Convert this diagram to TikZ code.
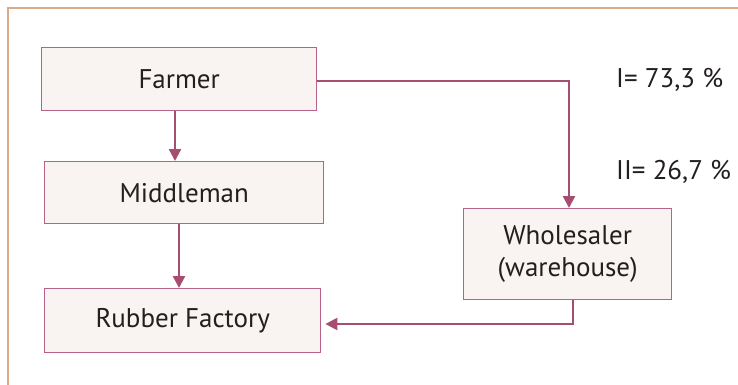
\documentclass[tikz,border=0pt]{standalone}
\usepackage{fontspec}
\setmainfont{PT Sans}
\usetikzlibrary{arrows.meta}
\definecolor{frameC}{HTML}{DDA98B}
\definecolor{boxC}{HTML}{B8628A}
\definecolor{fillC}{HTML}{F9F4F2}
\definecolor{arrC}{HTML}{A84D72}
\definecolor{txtC}{HTML}{231F20}
\begin{document}
\begin{tikzpicture}[x=1pt,y=-1pt,
  box/.style={draw=boxC, line width=1.4pt, fill=fillC, inner sep=0pt, anchor=north west, text=txtC,
     font=\fontsize{27}{32}\selectfont, align=center},
  conn/.style={draw=arrC, line width=2.4pt, -{Triangle[length=12pt,width=12pt]}},
  lbl/.style={text=txtC, font=\fontsize{27}{32}\selectfont, anchor=west, inner sep=0pt}]
\useasboundingbox (0,0) rectangle (738,385);
\draw[frameC, line width=2.4pt] (8,386) -- (8,8) -- (739,8);
\node[box, minimum width=275pt, minimum height=63pt] (farmer) at (41,47) {Farmer};
\node[box, minimum width=279pt, minimum height=62pt] (middle) at (44,161) {Middleman};
\node[box, minimum width=208pt, minimum height=91pt] (whole) at (463,208) {Wholesaler\\(warehouse)};
\node[box, minimum width=276pt, minimum height=64pt] (rubber) at (44,288) {Rubber Factory};
\node[lbl] (l1) at (616,80) {I= 73,3 \%};
\node[lbl] (l2) at (616,172) {II= 26,7 \%};
\draw[conn] (farmer.south -| 175,0) -- (middle.north -| 175,0);
\draw[conn] (middle.south -| 179,0) -- (rubber.north -| 179,0);
\draw[conn] (farmer.east |- 0,81) -| (whole.north -| 569,0);
\draw[conn] (whole.south -| 573,0) |- ([xshift=4pt]rubber.east |- 0,324);
\end{tikzpicture}
\end{document}
